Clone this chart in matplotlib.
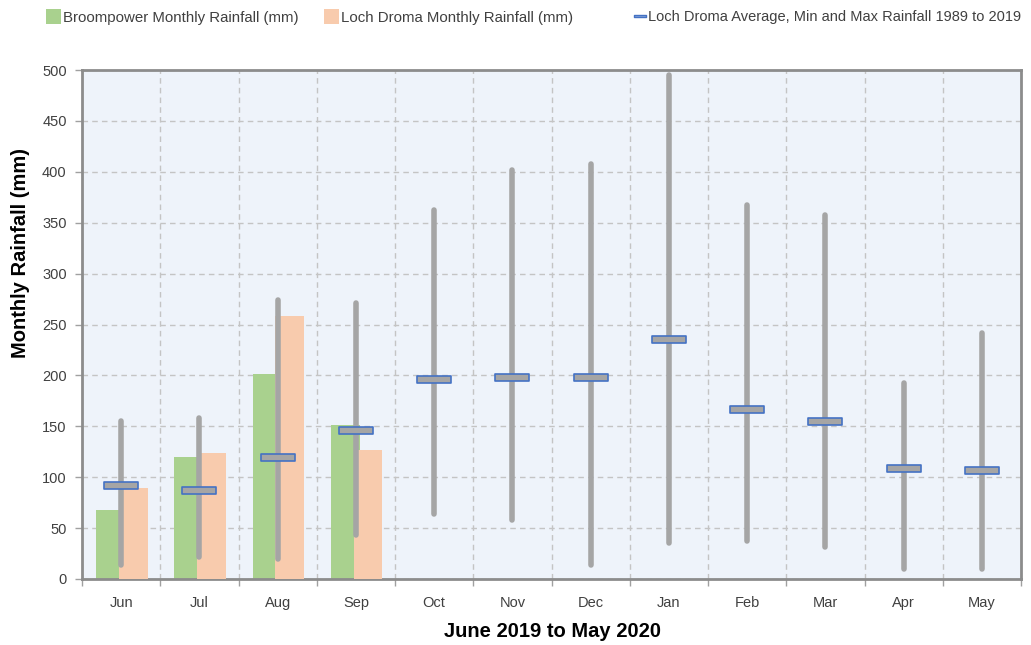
import matplotlib
matplotlib.use("Agg")
import matplotlib.pyplot as plt
import numpy as np
from matplotlib.patches import Patch
from matplotlib.lines import Line2D
from matplotlib.path import Path

plt.rcParams['font.family'] = ['Liberation Sans', 'DejaVu Sans']

months = ["Jun", "Jul", "Aug", "Sep", "Oct", "Nov", "Dec", "Jan", "Feb", "Mar", "Apr", "May"]
broompower = [68, 120, 201, 151]
loch_droma = [89, 124, 258, 127]
avg_rain = [92, 87, 120, 146, 196, 198, 198, 236, 167, 155, 109, 107]
min_rain = [14, 22, 20, 43, 64, 58, 14, 35, 37, 31, 10, 10]
max_rain = [155, 158, 274, 271, 362, 402, 408, 495, 367, 358, 193, 242]

GREEN = "#A9D18E"
ORANGE = "#F8CBAD"
GREY = "#A5A5A5"
BLUE = "#4472C4"
TXT = "#404040"

fig = plt.figure(figsize=(10.31, 6.45), dpi=100)
ax = fig.add_axes([82/1031, 66/645, 939/1031, 509/645])
ax.set_facecolor("#EEF3FA")

x = np.arange(len(months))
bw = 0.37
xb = np.arange(len(broompower))
ax.bar(xb - 0.135, broompower, width=bw, color=GREEN, zorder=2)
ax.bar(xb + 0.155, loch_droma, width=bw, color=ORANGE, zorder=3)

ax.vlines(x, min_rain, max_rain, colors=GREY, linewidth=4.0, capstyle='round', zorder=4)

rect = Path([(-1, -0.21), (1, -0.21), (1, 0.21), (-1, 0.21), (-1, -0.21)],
            [Path.MOVETO, Path.LINETO, Path.LINETO, Path.LINETO, Path.CLOSEPOLY])
ax.plot(x, avg_rain, linestyle='none', marker=rect, markersize=24,
        markerfacecolor=GREY, markeredgecolor=BLUE, markeredgewidth=1.2, zorder=5)

ax.set_xlim(-0.5, 11.5)
ax.set_ylim(0, 500)
ax.set_yticks(np.arange(0, 501, 50))
ax.set_xticks(x)
ax.set_xticklabels(months)
ax.set_xticks(np.arange(-0.5, 12, 1), minor=True)
ax.tick_params(axis='x', which='major', length=0, pad=12, labelsize=10.5, labelcolor=TXT)
ax.tick_params(axis='x', which='minor', length=5, color="#A0A0A0", width=1)
ax.tick_params(axis='y', length=5, color="#A0A0A0", width=1, labelsize=10.5, labelcolor=TXT, pad=6)

ax.grid(axis='y', which='major', linestyle=(0, (4, 3)), color="#C4C4C4", linewidth=1, zorder=0)
ax.grid(axis='x', which='minor', linestyle=(0, (4, 3)), color="#C4C4C4", linewidth=1, zorder=0)
ax.set_axisbelow(True)
for s in ax.spines.values():
    s.set_color("#8C8C8C")
    s.set_linewidth(2)

ax.set_ylabel("Monthly Rainfall (mm)", fontsize=14.5, fontweight='bold', color='black',
              va='center')
ax.yaxis.set_label_coords(-0.066, 0.64)
ax.set_xlabel("June 2019 to May 2020", fontsize=14.5, fontweight='bold', color='black',
              va='center')
ax.xaxis.set_label_coords(0.501, -0.104)

leg_kw = dict(frameon=False, handletextpad=0.15, borderpad=0,
              borderaxespad=0, labelcolor=TXT)
fig.legend(handles=[Patch(facecolor=GREEN, edgecolor='none')],
           labels=["Broompower Monthly Rainfall (mm)"], loc='center left', fontsize=10.8,
           bbox_to_anchor=(46/1031, 1 - 17/645), handlelength=1.0, handleheight=1.1, **leg_kw)
fig.legend(handles=[Patch(facecolor=ORANGE, edgecolor='none')],
           labels=["Loch Droma Monthly Rainfall (mm)"], loc='center left', fontsize=10.8,
           bbox_to_anchor=(324/1031, 1 - 17/645), handlelength=1.0, handleheight=1.1, **leg_kw)
fig.legend(handles=[Line2D([], [], linestyle='none', marker=rect, markersize=8,
                           markerfacecolor="#8FAADC", markeredgecolor=BLUE, markeredgewidth=1)],
           labels=["Loch Droma Average, Min and Max Rainfall 1989 to 2019"], loc='center left',
           fontsize=10.5,
           bbox_to_anchor=(633/1031, 1 - 17/645), handlelength=0.9, **leg_kw)

fig.savefig("out.png", dpi=100)
